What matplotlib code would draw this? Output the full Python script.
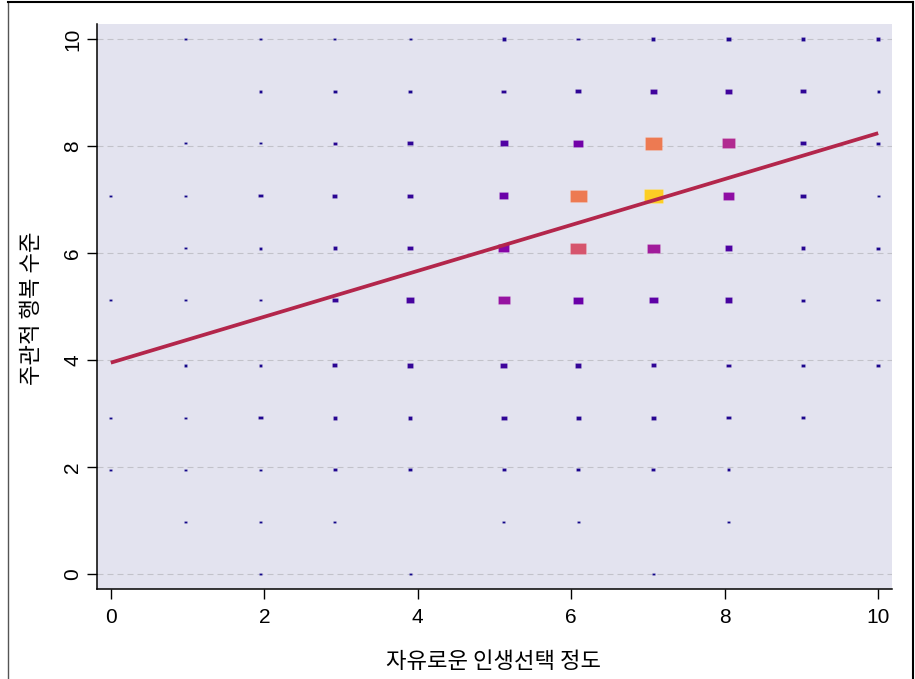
import numpy as np
import matplotlib
matplotlib.use("Agg")
import matplotlib.pyplot as plt
from matplotlib.path import Path
from matplotlib.lines import Line2D

# ---- data ----
levels = [0, 0.975, 1.95, 2.92, 3.90, 5.12, 6.09, 7.07, 8.05, 9.02, 10.0]
# counts[row] : row = y level index 0..10, columns = x level index 0..10
counts = [
    [0, 0, 1, 0, 1, 0, 0, 1, 0, 0, 0],          # y0
    [0, 1, 1, 1, 0, 1, 1, 0, 1, 0, 0],          # y1
    [1, 1, 1, 3, 2, 3, 2, 3, 2, 0, 0],          # y2
    [1, 1, 3, 4, 4, 6, 4, 4, 3, 2, 0],          # y3
    [0, 1, 2, 5, 7, 9, 7, 6, 4, 2, 2],          # y4
    [1, 1, 2, 7, 11, 32, 20, 17, 11, 3, 2],     # y5
    [0, 1, 2, 4, 8, 27, 55, 35, 13, 4, 2],      # y6
    [1, 1, 3, 5, 7, 20, 67, 90, 30, 5, 1],      # y7
    [0, 1, 1, 4, 6, 14, 22, 67, 40, 6, 2],      # y8
    [0, 0, 2, 2, 2, 5, 6, 10, 10, 6, 1],        # y9
    [0, 1, 1, 1, 1, 3, 2, 3, 3, 3, 3],          # y10
]
fit_x = [0, 10]
fit_y = [3.95, 8.24]
xticks = [0, 2, 4, 6, 8, 10]
yticks = [0, 2, 4, 6, 8, 10]
xlabel = "자유로운 인생선택 정도"
ylabel = "주관적 행복 수준"

# ---- figure ----
W, H = 915, 679
fig = plt.figure(figsize=(W / 100, H / 100), dpi=100)
ax = fig.add_axes([97 / W, 1 - 589 / H, (892 - 97) / W, (589 - 24) / H])
ax.set_facecolor("#e3e3ef")

xs, ys, cs = [], [], []
for yi, row in enumerate(counts):
    for xi, c in enumerate(row):
        if c > 0:
            xs.append(levels[xi])
            ys.append(levels[yi])
            cs.append(c)
xs, ys, cs = np.array(xs), np.array(ys), np.array(cs, dtype=float)
order = np.argsort(cs, kind="stable")
xs, ys, cs = xs[order], ys[order], cs[order]

rect = Path([(-0.685, -0.5), (0.685, -0.5), (0.685, 0.5), (-0.685, 0.5), (-0.685, -0.5)],
            [Path.MOVETO, Path.LINETO, Path.LINETO, Path.LINETO, Path.CLOSEPOLY])
ax.scatter(xs, ys, s=2.2 * cs + 3.0, c=cs, cmap="plasma", vmin=0, vmax=100, marker=rect,
           edgecolors=(1, 1, 1, 0.25), linewidths=0.4, zorder=3)

ax.plot(fit_x, fit_y, color="#b3264b", lw=2.7, zorder=4, solid_capstyle="butt")

ax.set_xlim(-0.18, 10.18)
ax.set_ylim(-0.28, 10.28)
ax.set_xticks(xticks)
ax.set_yticks(yticks)
ax.yaxis.grid(True, color="#c2c2ca", linestyle=(0, (5.4, 3.6)), linewidth=0.8)
ax.xaxis.grid(False)
ax.set_axisbelow(True)

for s in ["top", "right"]:
    ax.spines[s].set_visible(False)
for s in ["left", "bottom"]:
    ax.spines[s].set_linewidth(1.1)
    ax.spines[s].set_color("black")

tick_font = ["Liberation Sans Narrow", "Liberation Sans", "DejaVu Sans"]
ax.tick_params(axis="both", length=7, width=1, color="black", labelsize=15)
ax.tick_params(axis="x", pad=6.5)
ax.tick_params(axis="y", pad=3.5)
for lab in ax.get_xticklabels():
    lab.set_family(tick_font)
for lab in ax.get_yticklabels():
    lab.set_family(tick_font)
    lab.set_rotation(90)
    lab.set_va("center")

kfont = ["Noto Sans CJK KR", "DejaVu Sans"]
fig.text(494 / W, 1 - 662 / H, xlabel, ha="center", va="center", fontsize=16, family=kfont)
fig.text(32 / W, 1 - 308 / H, ylabel, ha="center", va="center", rotation=90, fontsize=16, family=kfont)

# outer frame
fig.add_artist(Line2D([8 / W, 8 / W], [0, 1 - 2 / H], transform=fig.transFigure, color="#555555", lw=1.0))
fig.add_artist(Line2D([8 / W, 913 / W], [1 - 2 / H, 1 - 2 / H], transform=fig.transFigure, color="black", lw=1.5))
fig.add_artist(Line2D([913 / W, 913 / W], [0, 1 - 2 / H], transform=fig.transFigure, color="black", lw=1.5))

fig.savefig("out.png", dpi=100)
